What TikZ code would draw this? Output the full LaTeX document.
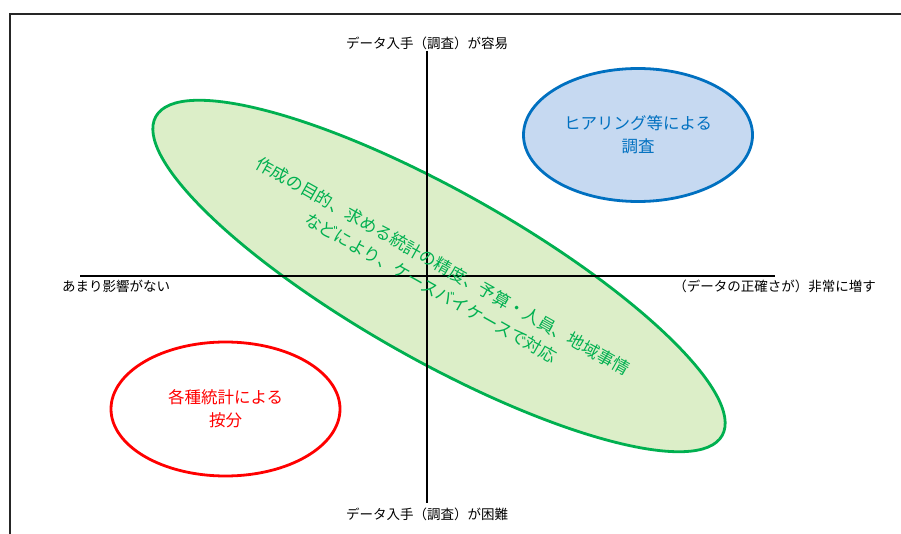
\documentclass[tikz,border=0pt]{standalone}
\usepackage{fontspec}
\setmainfont{Noto Sans CJK JP}
\usetikzlibrary{shapes.geometric}
\definecolor{grn}{RGB}{0,176,80}
\definecolor{grnfill}{RGB}{220,238,200}
\definecolor{blu}{RGB}{0,112,192}
\definecolor{blufill}{RGB}{198,217,241}
\definecolor{rd}{RGB}{255,0,0}
\tikzset{
  zone/.style={ellipse, inner sep=0pt, line width=2.8pt, align=center},
  axislabel/.style={font=\fontsize{13.5}{16}\selectfont, text=black, inner sep=0pt},
  axisline/.style={line width=1.2pt, black},
}
\begin{document}
\begin{tikzpicture}[x=1pt,y=-1pt]
\useasboundingbox (0,0) rectangle (901,534);
\fill[white] (0,0) rectangle (901,534);
\begin{scope}
  \clip (0,0) rectangle (901,534);
  \draw[line width=2pt, black!85] (10,14) rectangle (960,600);
\end{scope}
% green zone
\node[zone, draw=grn, fill=grnfill, minimum width=650pt, minimum height=169pt, rotate=-29.4] (plan) at (439,276) {};
% axes
\coordinate (xl) at (80,276);
\coordinate (xr) at (775,276);
\coordinate (yt) at (427,51);
\coordinate (yb) at (427,503);
\draw[axisline] (xl) -- (xr);
\draw[axisline] (yt) -- (yb);
% green text
\node[text=grn, rotate=-29.4, align=center, inner sep=0pt, font=\fontsize{17}{24.7}\selectfont] (plantext) at (437,277)
  {作成の目的、求める統計の精度、予算・人員、地域事情\\などにより、ケースバイケースで対応};
% blue zone
\node[zone, draw=blu, fill=blufill, text=blu, minimum width=229pt, minimum height=133pt, font=\fontsize{16.5}{23}\selectfont] (hear) at (638,135)
  {ヒアリング等による\\調査};
% red zone
\node[zone, draw=rd, fill=white, text=rd, minimum width=229pt, minimum height=134pt, font=\fontsize{16.5}{23}\selectfont] (stat) at (225.5,409)
  {各種統計による\\按分};
% axis labels
\node[axislabel] (top) at (427,43.5) {データ入手（調査）が容易};
\node[axislabel] (bot) at (427,514.5) {データ入手（調査）が困難};
\node[axislabel] (lft) at (116,286.5) {あまり影響がない};
\node[axislabel] (rgt) at (774.5,286) {（データの正確さが）非常に増す};
\end{tikzpicture}
\end{document}
